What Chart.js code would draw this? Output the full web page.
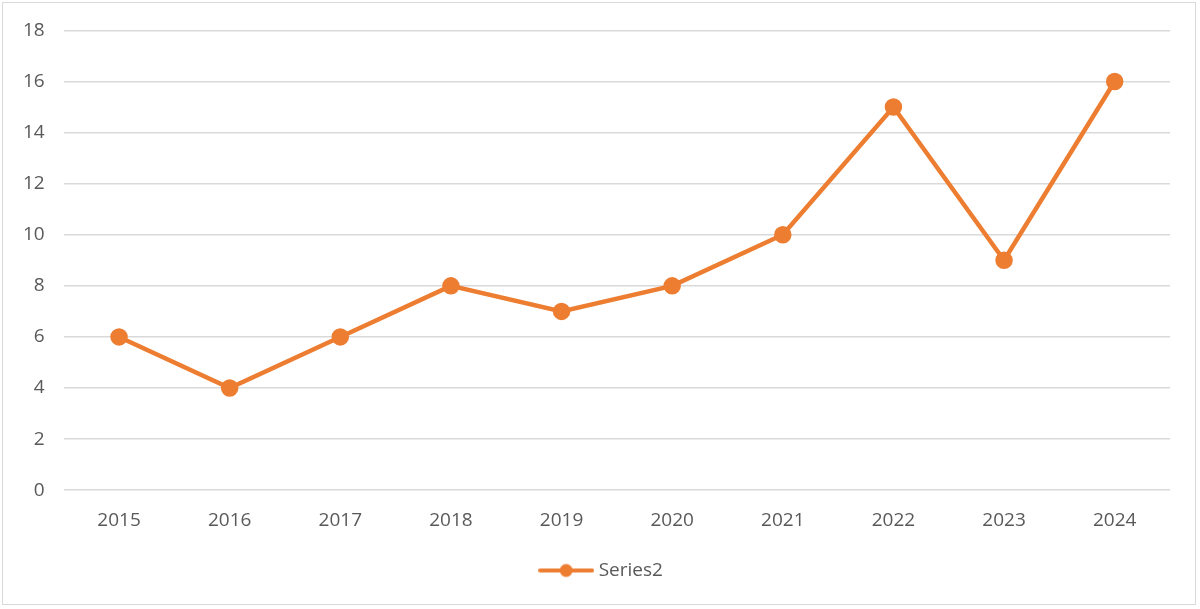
<!DOCTYPE html>
<html>
<head>
<meta charset="utf-8">
<script src="https://cdn.jsdelivr.net/npm/chart.js@4/dist/chart.umd.min.js"></script>
<style>
    html, body { margin: 0; padding: 0; background: #fff; }
    .frame {
        position: absolute;
        left: 2px; top: 2px;
        width: 1194px; height: 603px;
        border: 1px solid #d9d9d9;
        box-sizing: border-box;
    }
    #chartWrap { position: absolute; left: 0; top: 0; width: 1200px; height: 609px; }
</style>
</head>
<body>
<div class="frame"></div>
<div id="chartWrap"><canvas id="lineChart"></canvas></div>
<script>
// Chart data
const years = ['2015', '2016', '2017', '2018', '2019', '2020', '2021', '2022', '2023', '2024'];
const series2 = [6, 4, 6, 8, 7, 8, 10, 15, 9, 16];
const seriesName = 'Series2';

const orange = '#ed7d31';
const tickColor = '#595959';
const gridColor = '#d9d9d9';

// legend icon: short line with a dot, like the office-style legend
function makeLegendIcon() {
    const c = document.createElement('canvas');
    c.width = 56;
    c.height = 16;
    const g = c.getContext('2d');
    g.strokeStyle = orange;
    g.lineWidth = 4;
    g.lineCap = 'round';
    g.beginPath();
    g.moveTo(2, 8);
    g.lineTo(54, 8);
    g.stroke();
    g.fillStyle = orange;
    g.beginPath();
    g.arc(28, 8, 6.5, 0, Math.PI * 2);
    g.fill();
    return c;
}

// center the legend on the whole canvas, not on the padded area
const legendCenter = {
    id: 'legendCenter',
    beforeDraw(chart) {
        if (!chart.legend) return;
        chart.legend.left = 6;
        chart.legend.right = chart.width;
    }
};

document.addEventListener('DOMContentLoaded', function() {
    const legendIcon = makeLegendIcon();
    const ctx = document.getElementById('lineChart').getContext('2d');

    new Chart(ctx, {
        type: 'line',
        data: {
            labels: years,
            datasets: [{
                label: seriesName,
                data: series2,
                borderColor: orange,
                backgroundColor: orange,
                borderWidth: 4.5,
                pointRadius: 6.5,
                pointHoverRadius: 6.5,
                pointBackgroundColor: orange,
                pointBorderColor: orange,
                tension: 0,
                fill: false
            }]
        },
        options: {
            responsive: true,
            maintainAspectRatio: false,
            animation: false,
            layout: {
                padding: { left: 4, right: 30, top: 22, bottom: 19 }
            },
            plugins: {
                legend: {
                    position: 'bottom',
                    labels: {
                        usePointStyle: true,
                        pointStyleWidth: 46,
                        color: tickColor,
                        font: { family: 'Open Sans', size: 19 },
                        padding: 18,
                        generateLabels: function() {
                            return [{
                                text: seriesName,
                                pointStyle: legendIcon,
                                fillStyle: orange,
                                strokeStyle: orange,
                                lineWidth: 0,
                                fontColor: tickColor,
                                datasetIndex: 0
                            }];
                        }
                    }
                },
                tooltip: { enabled: false }
            },
            scales: {
                x: {
                    offset: true,
                    grid: { display: false },
                    border: { display: false },
                    ticks: {
                        color: tickColor,
                        font: { family: 'Open Sans', size: 19 },
                        padding: 11,
                        maxRotation: 0
                    }
                },
                y: {
                    min: 0,
                    max: 18,
                    grid: {
                        color: gridColor,
                        lineWidth: 1.5,
                        drawTicks: false
                    },
                    border: { display: false },
                    ticks: {
                        stepSize: 2,
                        color: tickColor,
                        font: { family: 'Open Sans', size: 19 },
                        padding: 19
                    }
                }
            }
        },
        plugins: [legendCenter]
    });
});
</script>
</body>
</html>
